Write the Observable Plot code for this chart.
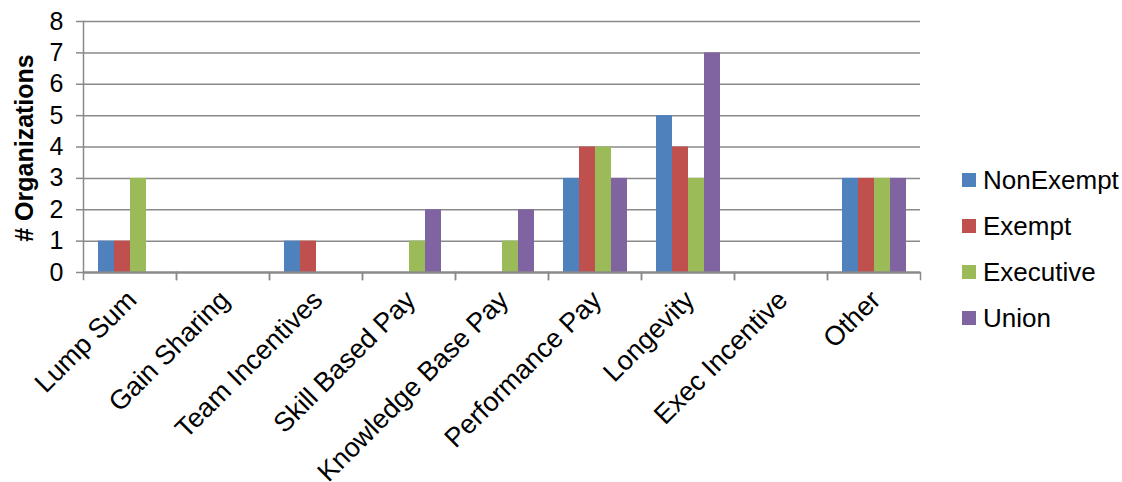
<!DOCTYPE html>
<html>
<head>
<meta charset="utf-8">
<script src="https://cdn.jsdelivr.net/npm/d3@7"></script>
<script src="https://cdn.jsdelivr.net/npm/@observablehq/plot@0.6"></script>
<style>
  html, body { margin: 0; padding: 0; background: #fff; }
  #wrap { position: relative; width: 1122px; height: 482px; font-family: "Liberation Sans", Arial, sans-serif; }
  #legend { position: absolute; left: 962px; top: 157px; }
  .item { display: flex; align-items: center; height: 46px; font-size: 26px; color: #000; }
  .sw { width: 14px; height: 14px; margin-right: 7px; }
  #ytitle { position: absolute; left: 24px; top: 148px; transform: translate(-50%, -50%) rotate(-90deg);
            white-space: nowrap; font-size: 25px; font-weight: bold; color: #000; }
</style>
</head>
<body>
<div id="wrap"></div>
<script>
// Incentive pay programs by employee group
const categories = ["Lump Sum", "Gain Sharing", "Team Incentives", "Skill Based Pay", "Knowledge Base Pay", "Performance Pay", "Longevity", "Exec Incentive", "Other"];
const series = ["NonExempt", "Exempt", "Executive", "Union"];
const nonExempt = [1, 0, 1, 0, 0, 3, 5, 0, 3];
const exempt    = [1, 0, 1, 0, 0, 4, 4, 0, 3];
const executive = [3, 0, 0, 1, 1, 4, 3, 0, 3];
const union     = [0, 0, 0, 2, 2, 3, 7, 0, 3];
const yTicks = [0, 1, 2, 3, 4, 5, 6, 7, 8];
const colors = ["#4F81BD", "#C0504D", "#9BBB59", "#8064A2"];
const yTitle = "# Organizations";

const valuesBySeries = [nonExempt, exempt, executive, union];
// every category keeps a row per group so that each facet exists, even when all values are zero
const rows = [];
categories.forEach((c, i) => {
  series.forEach((s, j) => {
    rows.push({category: c, group: s, value: valuesBySeries[j][i]});
  });
});

const gray = "#8a8a8a";
const font = "Liberation Sans, Arial, sans-serif";

const chart = Plot.plot({
  width: 1122,
  height: 482,
  marginLeft: 83,
  marginRight: 202,
  marginTop: 21,
  marginBottom: 210,
  style: {fontFamily: font, fontSize: "25px", color: "#000", background: "#fff"},
  fx: {domain: categories, padding: 0, label: null},
  x: {domain: series, paddingInner: 0, paddingOuter: 0.79, axis: null},
  y: {domain: [0, 8], label: null},
  color: {domain: series, range: colors},
  marks: [
    Plot.gridY(yTicks, {stroke: gray, strokeOpacity: 1, strokeWidth: 1.5}),
    Plot.barY(rows.filter(d => d.value > 0), {fx: "category", x: "group", y: "value", fill: "group"}),
    Plot.ruleY(rows, {fx: "category", y: 0, stroke: gray, strokeWidth: 1.5}),
    // category boundary ticks below the baseline
    Plot.frame({anchor: "left", stroke: gray, strokeWidth: 1.5, insetTop: 251, insetBottom: -7}),
    Plot.frame({anchor: "right", stroke: gray, strokeWidth: 1.5, insetTop: 251, insetBottom: -7}),
    // value axis line
    Plot.frame({anchor: "left", stroke: gray, strokeWidth: 1.5, facetAnchor: "left"}),
    Plot.axisY(yTicks, {tickSize: 7, tickPadding: 13, stroke: gray, strokeWidth: 1.5, label: null, fontSize: 25, tickFormat: d3.format("d")}),
    Plot.axisFx({anchor: "bottom", tickRotate: -45, tickSize: 0, tickPadding: 21, dx: 2, dy: 2, label: null, fontSize: 27})
  ]
});

const wrap = document.getElementById("wrap");
wrap.appendChild(chart);

const title = document.createElement("div");
title.id = "ytitle";
title.textContent = yTitle;
wrap.appendChild(title);

const legend = document.createElement("div");
legend.id = "legend";
series.forEach((s, j) => {
  const item = document.createElement("div");
  item.className = "item";
  const sw = document.createElement("span");
  sw.className = "sw";
  sw.style.background = colors[j];
  const label = document.createElement("span");
  label.textContent = s;
  item.appendChild(sw);
  item.appendChild(label);
  legend.appendChild(item);
});
wrap.appendChild(legend);
</script>
</body>
</html>
